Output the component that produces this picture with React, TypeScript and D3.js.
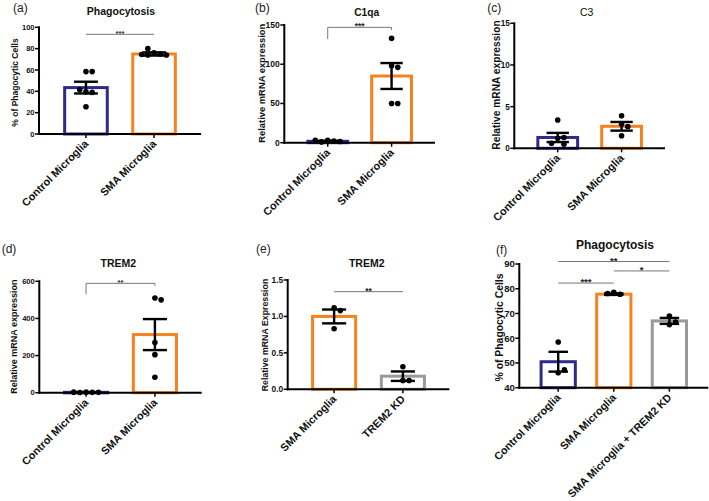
import React from "react";
import * as d3 from "d3";

const FONT = "'Liberation Sans', Arial, Helvetica, sans-serif";
const NAVY = "#2d2a8c";
const ORANGE = "#f5821f";
const GRAY = "#9a9a9a";

// ---------- (a) Phagocytosis ----------
const aCategories = ["Control Microglia", "SMA Microglia"];
const aMeans = [43.5, 75];
const aSems = [5.5, 1.5];
const aPoints = [
  [58.5, 58.5, 39.5, 39, 41.5, 25.5],
  [76, 75, 80, 74, 74, 74.5],
];
const aTicks = [0, 20, 40, 60, 80, 100];

// ---------- (b) C1qa ----------
const bCategories = ["Control Microglia", "SMA Microglia"];
const bMeans = [1.8, 85];
const bSems = [0.5, 16.5];
const bPoints = [
  [3, 2, 1, 1.5, 3],
  [133, 98, 96, 50, 50],
];
const bTicks = [0, 50, 100, 150];

// ---------- (c) C3 ----------
const cCategories = ["Control Microglia", "SMA Microglia"];
const cMeans = [1.3, 2.64];
const cSems = [0.55, 0.52];
const cPoints = [
  [3.4, 1.2, 1.3, 0.5, 0.6],
  [3.9, 2.9, 2.6, 1.5],
];
const cTicks = [0, 5, 10, 15];

// ---------- (d) TREM2 ----------
const dCategories = ["Control Microglia", "SMA Microglia"];
const dMeans = [2, 313];
const dSems = [0.8, 83.5];
const dPoints = [
  [3, 2, 1, 2, 3],
  [510, 500, 270, 205, 83],
];
const dTicks = [0, 200, 400, 600];

// ---------- (e) TREM2 ----------
const eCategories = ["SMA Microglia", "TREM2 KD"];
const eMeans = [1.0, 0.18];
const eSems = [0.095, 0.065];
const ePoints = [
  [1.12, 1.08, 0.83],
  [0.31, 0.12, 0.12],
];
const eTicks = [0, 0.5, 1.0, 1.5];

// ---------- (f) Phagocytosis ----------
const fCategories = ["Control Microglia", "SMA Microglia", "SMA Microglia + TREM2 KD"];
const fMeans = [50.5, 77.8, 67];
const fSems = [4.0, 0.3, 1.2];
const fPoints = [
  [58.5, 46, 47.2],
  [78.6, 77.8, 78.1],
  [69, 65.5, 66.5],
];
const fTicks = [40, 50, 60, 70, 80, 90];

type Sig = { a: number; b: number; label: string; y: number; dropA?: number; dropB?: number };

type PanelProps = {
  cats: string[];
  means: number[];
  sems: number[];
  points: number[][];
  colors: string[];
  ticks: number[];
  domain: [number, number];
  fmt?: (v: number) => string;
  box: { l: number; r: number; t: number; b: number };
  pad: number;
  fs: { tick: number; ylab: number; xlab: number; title: number };
  title: string;
  titleXY: [number, number];
  titleWeight?: string;
  letter: string;
  letterXY: [number, number];
  yLabel: string;
  yLabelXY: [number, number];
  sigs: Sig[];
};

function swarm(values: number[], y: (v: number) => number, r: number): number[] {
  const placed: { x: number; y: number }[] = [];
  const step = r * 2 + 0.6;
  return values.map((v) => {
    const py = y(v);
    let k = 0;
    let off = 0;
    for (;;) {
      const cand = k === 0 ? 0 : (k % 2 === 1 ? 1 : -1) * Math.ceil(k / 2) * step;
      if (placed.every((p) => Math.hypot(p.x - cand, p.y - py) >= step)) {
        off = cand;
        break;
      }
      k++;
    }
    placed.push({ x: off, y: py });
    return off;
  });
}

function Panel(p: PanelProps) {
  const y = d3.scaleLinear().domain(p.domain).range([p.box.b, p.box.t]);
  const x = d3.scalePoint<string>().domain(p.cats).range([p.box.l, p.box.r]).padding(p.pad);
  const step = x.step();
  const barW = step * 0.67 - 3;
  const capW = step * 0.35;
  const fmt = p.fmt || ((v: number) => String(v));
  const r = 2.8;
  return (
    <g fontFamily={FONT}>
      <text x={p.letterXY[0]} y={p.letterXY[1]} fontSize={12} fill="#222">
        {p.letter}
      </text>
      <text
        x={p.titleXY[0]}
        y={p.titleXY[1]}
        fontSize={p.fs.title}
        fontWeight={p.titleWeight || "bold"}
        textAnchor="middle"
        fill="#111"
      >
        {p.title}
      </text>
      <text
        transform={`translate(${p.yLabelXY[0]},${p.yLabelXY[1]}) rotate(-90)`}
        fontSize={p.fs.ylab}
        fontWeight="bold"
        textAnchor="middle"
        fill="#111"
      >
        {p.yLabel}
      </text>
      {/* bars */}
      {p.cats.map((c, i) => {
        const cx = x(c) as number;
        const top = y(p.means[i]);
        return (
          <rect
            key={"bar" + i}
            x={cx - barW / 2}
            y={top}
            width={barW}
            height={Math.max(0.5, p.box.b - top)}
            fill="white"
            stroke={p.colors[i]}
            strokeWidth={3}
          />
        );
      })}
      {/* points */}
      {p.cats.map((c, i) => {
        const cx = x(c) as number;
        const offs = swarm(p.points[i], y, r);
        return p.points[i].map((v, j) => (
          <circle key={`pt${i}-${j}`} cx={cx + offs[j]} cy={y(v)} r={r} fill="#000" />
        ));
      })}
      {/* error bars */}
      {p.cats.map((c, i) => {
        const cx = x(c) as number;
        const hi = y(p.means[i] + p.sems[i]);
        const lo = y(Math.max(p.domain[0], p.means[i] - p.sems[i]));
        return (
          <g key={"err" + i} stroke="#000" strokeWidth={2.4}>
            <line x1={cx} x2={cx} y1={hi} y2={lo} />
            <line x1={cx - capW / 2} x2={cx + capW / 2} y1={hi} y2={hi} />
            <line x1={cx - capW / 2} x2={cx + capW / 2} y1={lo} y2={lo} />
          </g>
        );
      })}
      {/* y axis */}
      <line x1={p.box.l} x2={p.box.l} y1={p.box.t - 1} y2={p.box.b + 1} stroke="#000" strokeWidth={2} />
      {p.ticks.map((t) => (
        <g key={"yt" + t}>
          <line x1={p.box.l - 4} x2={p.box.l} y1={y(t)} y2={y(t)} stroke="#000" strokeWidth={1.5} />
          <text
            x={p.box.l - 4.5}
            y={y(t)}
            dy="0.35em"
            fontSize={p.fs.tick}
            fontWeight="bold"
            textAnchor="end"
            fill="#111"
          >
            {fmt(t)}
          </text>
        </g>
      ))}
      {/* x axis */}
      <line x1={p.box.l - 1} x2={p.box.r} y1={p.box.b} y2={p.box.b} stroke="#000" strokeWidth={2} />
      {p.cats.map((c) => {
        const cx = x(c) as number;
        return (
          <g key={"xt" + c}>
            <line x1={cx} x2={cx} y1={p.box.b} y2={p.box.b + 4} stroke="#000" strokeWidth={1.5} />
            <text
              transform={`translate(${cx + 3},${p.box.b + 10.5}) rotate(-45)`}
              fontSize={p.fs.xlab}
              fontWeight="bold"
              textAnchor="end"
              fill="#111"
            >
              {c}
            </text>
          </g>
        );
      })}
      {/* significance */}
      {p.sigs.map((s, k) => {
        const x1 = x(p.cats[s.a]) as number;
        const x2 = x(p.cats[s.b]) as number;
        const yl = y(s.y);
        const ya = s.dropA !== undefined ? y(s.dropA) : yl;
        const yb = s.dropB !== undefined ? y(s.dropB) : yl;
        return (
          <g key={"sig" + k}>
            <path
              d={`M${x1},${ya}V${yl}H${x2}V${yb}`}
              fill="none"
              stroke="#777"
              strokeWidth={1}
            />
            <text
              x={(x1 + x2) / 2}
              y={yl + 2}
              fontSize={p.fs.tick}
              fontWeight="bold"
              textAnchor="middle"
              fill="#222"
            >
              {s.label}
            </text>
          </g>
        );
      })}
    </g>
  );
}

export default function App() {
  return (
    <svg
      width={709}
      height={501}
      style={{ position: "absolute", left: 0, top: 0, background: "#fff" }}
    >
      <rect width={709} height={501} fill="#fff" />
      <Panel
        cats={aCategories}
        means={aMeans}
        sems={aSems}
        points={aPoints}
        colors={[NAVY, ORANGE]}
        ticks={aTicks}
        domain={[0, 100]}
        box={{ l: 39, r: 201, t: 27.3, b: 134 }}
        pad={0.69}
        fs={{ tick: 7.5, ylab: 8.5, xlab: 10.8, title: 10.5 }}
        title="Phagocytosis"
        titleXY={[121, 15]}
        letter="(a)"
        letterXY={[13, 11.5]}
        yLabel="% of Phagocytic Cells"
        yLabelXY={[18, 82.5]}
        sigs={[{ a: 0, b: 1, label: "***", y: 93.4 }]}
      />
      <Panel
        cats={bCategories}
        means={bMeans}
        sems={bSems}
        points={bPoints}
        colors={[NAVY, ORANGE]}
        ticks={bTicks}
        domain={[0, 150]}
        box={{ l: 284.3, r: 435, t: 25, b: 142.7 }}
        pad={0.68}
        fs={{ tick: 8.5, ylab: 9.4, xlab: 10.9, title: 10.2 }}
        title="C1qa"
        titleXY={[366.7, 15.5]}
        letter="(b)"
        letterXY={[255, 11.5]}
        yLabel="Relative mRNA expression"
        yLabelXY={[265, 83.3]}
        sigs={[{ a: 0, b: 1, label: "***", y: 147, dropA: 132, dropB: 143.6 }]}
      />
      <Panel
        cats={cCategories}
        means={cMeans}
        sems={cSems}
        points={cPoints}
        colors={[NAVY, ORANGE]}
        ticks={cTicks}
        domain={[0, 15]}
        box={{ l: 514.3, r: 665, t: 23.3, b: 148.3 }}
        pad={0.68}
        fs={{ tick: 8.2, ylab: 10.2, xlab: 10.9, title: 10.5 }}
        title="C3"
        titleWeight="normal"
        titleXY={[586.7, 16]}
        letter="(c)"
        letterXY={[487.3, 11.5]}
        yLabel="Relative mRNA expression"
        yLabelXY={[500.2, 85]}
        sigs={[]}
      />
      <Panel
        cats={dCategories}
        means={dMeans}
        sems={dSems}
        points={dPoints}
        colors={[NAVY, ORANGE]}
        ticks={dTicks}
        domain={[0, 600]}
        box={{ l: 39.3, r: 201.7, t: 281.3, b: 392.7 }}
        pad={0.68}
        fs={{ tick: 7.6, ylab: 9, xlab: 10.8, title: 10.5 }}
        title="TREM2"
        titleXY={[118.3, 267]}
        letter="(d)"
        letterXY={[1.7, 252.5]}
        yLabel="Relative mRNA expression"
        yLabelXY={[16.5, 336.7]}
        sigs={[{ a: 0, b: 1, label: "**", y: 589, dropA: 530, dropB: 576 }]}
      />
      <Panel
        cats={eCategories}
        means={eMeans}
        sems={eSems}
        points={ePoints}
        colors={[ORANGE, GRAY]}
        ticks={eTicks}
        domain={[0, 1.5]}
        fmt={d3.format(".1f")}
        box={{ l: 287.7, r: 449.3, t: 280, b: 389.3 }}
        pad={0.675}
        fs={{ tick: 8.4, ylab: 8.8, xlab: 10.8, title: 10.5 }}
        title="TREM2"
        titleXY={[366.7, 267]}
        letter="(e)"
        letterXY={[256, 252.5]}
        yLabel="Relative mRNA Expression"
        yLabelXY={[268, 335]}
        sigs={[{ a: 0, b: 1, label: "**", y: 1.34 }]}
      />
      <Panel
        cats={fCategories}
        means={fMeans}
        sems={fSems}
        points={fPoints}
        colors={[NAVY, ORANGE, GRAY]}
        ticks={fTicks}
        domain={[40, 90]}
        box={{ l: 519.3, r: 708.3, t: 264, b: 387.7 }}
        pad={0.7}
        fs={{ tick: 9.6, ylab: 10.4, xlab: 10.8, title: 12 }}
        title="Phagocytosis"
        titleXY={[615, 249]}
        letter="(f)"
        letterXY={[496, 254]}
        yLabel="% of Phagocytic Cells"
        yLabelXY={[503, 327.5]}
        sigs={[
          { a: 0, b: 2, label: "**", y: 91 },
          { a: 1, b: 2, label: "*", y: 87.2 },
          { a: 0, b: 1, label: "***", y: 82.3 },
        ]}
      />
    </svg>
  );
}
